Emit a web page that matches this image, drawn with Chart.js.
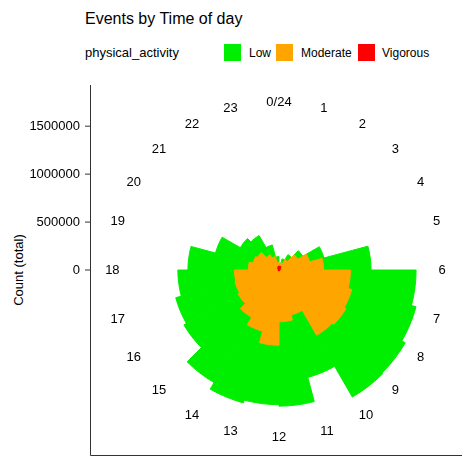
<!DOCTYPE html>
<html>
<head>
<meta charset="utf-8">
<script src="https://cdn.jsdelivr.net/npm/chart.js@4/dist/chart.umd.min.js"></script>
<style>
  body { margin: 0; width: 474px; height: 467px; position: relative; font-family: "Liberation Sans", Arial, sans-serif; background: #fff; overflow: hidden; }
  #title { position: absolute; left: 85px; top: 10px; font-size: 16px; color: #000; }
  .lg { position: absolute; top: 45px; font-size: 12px; line-height: 16px; }
  .k { position: absolute; top: 44px; width: 17px; height: 17px; }
  #ytitle { position: absolute; left: 18px; top: 270px; font-size: 13px; transform: translate(-50%, -50%) rotate(-90deg); white-space: nowrap; }
  canvas { position: absolute; left: 0; top: 0; }
</style>
</head>
<body>
<div id="title">Events by Time of day</div>
<div class="lg" style="left:85px;font-size:13px">physical_activity</div>
<div class="k" style="left:224px;background:#00ee00"></div><div class="lg" style="left:249px">Low</div>
<div class="k" style="left:276px;background:#ffa500"></div><div class="lg" style="left:301px">Moderate</div>
<div class="k" style="left:358px;background:#ff0000"></div><div class="lg" style="left:382px">Vigorous</div>
<div id="ytitle">Count (total)</div>
<canvas id="myChart" width="474" height="467"></canvas>
<script>
// Hourly counts
var hours = ["0/24", "1", "2", "3", "4", "5", "6", "7", "8", "9", "10", "11",
  "12", "13", "14", "15", "16", "17", "18", "19", "20", "21", "22", "23"];
var low = [10000, 40000, 60000, 60000, 155000, 495000, 685000, 695000, 715000, 745000, 675000, 880000,
  620000, 775000, 785000, 650000, 640000, 590000, 630000, 405000, 205000, 230000, 125000, 60000];
var moderate = [10000, 40000, 95000, 205000, 320000, 455000, 735000, 775000, 795000, 775000, 475000, 530000,
  775000, 650000, 560000, 485000, 465000, 455000, 310000, 270000, 250000, 165000, 115000, 40000];
var vigorous = [40000, 40000, 30000, 20000, 10000, 10000, 10000, 10000, 10000, 10000, 10000, 10000,
  10000, 10000, 10000, 10000, 10000, 10000, 10000, 10000, 10000, 20000, 30000, 40000];
var yTicks = [0, 500000, 1000000, 1500000];

// stacked polar: each layer drawn from the centre with cumulative height
var modTop = moderate.map(function (v, i) { return v + vigorous[i]; });
var lowTop = low.map(function (v, i) { return v + modTop[i]; });

var axisPlugin = {
  id: "leftAxis",
  afterDraw: function (chart) {
    var c = chart.ctx, s = chart.scales.r;
    c.save();
    c.strokeStyle = "#333";
    c.lineWidth = 1;
    c.beginPath();
    c.moveTo(90.5, 85); c.lineTo(90.5, 455.5); c.lineTo(462, 455.5);
    c.stroke();
    c.fillStyle = "#000";
    c.font = "13px 'Liberation Sans', Arial";
    c.textAlign = "right";
    c.textBaseline = "middle";
    yTicks.forEach(function (v) {
      var y = s.yCenter - s.getDistanceFromCenterForValue(v);
      c.fillText(String(v), 80, y);
      c.beginPath(); c.moveTo(85, y); c.lineTo(90, y); c.stroke();
    });
    c.restore();
  }
};

var ctx = document.getElementById("myChart").getContext("2d");
new Chart(ctx, {
  type: "polarArea",
  data: {
    labels: hours,
    datasets: [
      { label: "Vigorous", data: vigorous.slice(), backgroundColor: "#ff0000", borderColor: "#ff0000", borderWidth: 1, order: 1 },
      { label: "Moderate", data: modTop, backgroundColor: "#ffa500", borderColor: "#ffa500", borderWidth: 1, order: 2 },
      { label: "Low", data: lowTop, backgroundColor: "#00ee00", borderColor: "#00ee00", borderWidth: 1, order: 3 }
    ]
  },
  options: {
    responsive: false,
    animation: false,
    startAngle: -7.5,
    layout: { padding: { left: 101, right: 23, top: 96, bottom: 21 } },
    plugins: { legend: { display: false }, tooltip: { enabled: false } },
    scales: {
      r: {
        min: 0,
        max: 1600000,
        grid: { display: false },
        angleLines: { display: false },
        ticks: { display: false },
        pointLabels: {
          display: true,
          centerPointLabels: false,
          color: "#000",
          font: { size: 13, family: "'Liberation Sans', Arial" },
          padding: 6
        }
      }
    }
  },
  plugins: [axisPlugin]
});
</script>
</body>
</html>
